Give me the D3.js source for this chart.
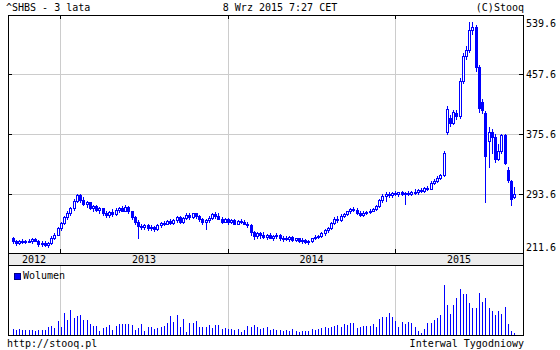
<!DOCTYPE html>
<html>
<head>
<meta charset="utf-8">
<script src="https://d3js.org/d3.v7.min.js"></script>
<style>
  body { margin: 0; background: #fff; }
  svg text { font-family: 'DejaVu Sans Mono', monospace; font-size: 10px; fill: #000; }
</style>
</head>
<body>
<svg></svg>
<script>
var width = 560;
var height = 350;
var left = 8, right = 523;
var mainTop = 15, mainBottom = 253, bandBottom = 265, volBottom = 335;

// weekly candles, first week and notowania
var firstWeek = new Date(Date.UTC(2012, 8, 20));
var opens = [233,229,226,230,228,230,229,232,230,225,227,224,226,234,238,247,254,262,268,274,
             284,292,286,280,282,275,277,272,274,267,265,269,266,272,274,271,276,270,262,256,
             250,248,251,247,249,246,251,254,253,257,254,258,262,256,261,265,262,267,263,259,
             255,258,261,266,263,260,256,259,255,258,253,257,256,253,251,241,236,240,237,235,
             238,234,236,238,233,234,232,235,231,233,229,231,228,230,233,235,236,240,244,247,
             254,260,258,264,266,270,273,272,268,265,268,269,271,273,277,285,291,294,292,295,
             293,296,294,295,293,297,296,299,298,302,301,309,312,316,319,378,398,391,404,400,
             448,482,490,518,522,467,420,404,366,378,372,342,352,374,326,311,289];
var highs = [235,231,231,232,231,232,233,234,231,229,229,228,236,240,249,256,264,270,276,287,
             294,294,289,284,283,279,278,276,275,270,271,273,274,276,277,278,277,271,264,258,
             253,253,252,251,250,252,256,257,258,259,260,264,263,262,267,267,268,268,265,261,
             260,263,268,269,267,262,261,261,260,259,258,259,258,255,252,243,242,242,241,239,
             240,238,240,239,236,236,236,236,234,234,233,232,231,234,237,238,241,246,249,256,
             262,263,266,268,271,274,276,274,270,270,271,273,275,279,287,293,297,297,296,298,
             297,298,297,298,298,300,300,302,303,304,311,314,318,321,352,414,401,409,408,452,
             486,496,528,528,524,470,424,407,385,382,375,362,376,376,330,313,303];
var lows = [226,224,225,227,226,228,227,229,223,222,223,221,225,232,237,245,252,259,265,272,
            282,283,278,276,273,271,270,268,265,262,262,264,265,269,270,270,268,259,252,233,
            246,246,245,244,243,245,249,251,252,252,253,256,254,254,259,260,261,261,257,252,
            246,256,259,261,259,254,255,253,254,252,252,254,252,249,238,232,234,234,233,232,
            233,231,234,231,230,231,230,230,229,228,227,226,225,228,232,233,235,238,242,246,
            252,256,257,262,265,268,270,266,263,264,266,267,270,272,276,282,284,290,289,292,
            291,292,280,292,292,294,294,296,297,299,300,307,310,314,318,376,386,389,396,398,
            445,478,488,512,462,405,404,283,330,350,337,340,350,334,310,278,288];
var closes = [229,226,230,228,230,229,232,230,225,227,224,226,234,238,247,254,262,268,274,284,
              292,286,280,282,275,277,272,274,267,265,269,266,272,274,271,276,270,262,256,250,
              248,251,247,249,246,251,254,253,257,254,258,262,256,261,265,262,267,263,259,255,
              258,261,266,263,260,256,259,255,258,253,257,256,253,251,241,236,240,237,235,238,
              234,236,238,233,234,232,235,231,233,229,231,228,230,233,235,236,240,244,247,254,
              260,258,264,266,270,273,272,268,265,268,269,271,273,277,285,291,294,292,295,293,
              296,294,295,293,297,296,299,298,302,301,309,312,316,319,350,410,391,406,400,448,
              482,490,518,522,467,411,408,345,378,372,342,352,374,336,313,287,294];
var volumes = [12,10,12,10,10,10,10,8,10,10,10,16,18,14,28,16,44,30,50,34,
               38,40,30,30,22,18,18,8,14,16,20,10,18,22,22,22,22,20,10,14,
               22,8,16,16,12,14,16,18,24,38,26,40,16,32,6,24,24,28,16,16,
               16,20,14,20,20,12,14,12,12,10,12,6,10,18,16,20,16,12,14,16,
               10,12,10,10,8,10,8,12,8,6,8,8,8,12,10,12,14,16,14,16,
               18,20,16,22,20,24,24,14,16,18,18,18,22,16,32,36,36,44,36,28,
               16,26,22,26,24,16,8,4,12,24,24,30,34,40,100,60,42,60,74,92,
               82,82,64,54,54,84,66,74,54,48,40,48,42,56,22,8,4];

var priceTicks = [211.6, 293.6, 375.6, 457.6, 539.6];
var yearStarts = [2013, 2014, 2015];
var yearLabels = ['2012', '2013', '2014', '2015'];

var weeks = opens.map((o, i) => ({
    date: d3.utcDay.offset(firstWeek, 7 * i),
    open: o, high: highs[i], low: lows[i], close: closes[i], volume: volumes[i]
}));

var x = d3.scaleUtc()
          .domain([new Date(Date.UTC(2012, 8, 10)), new Date(Date.UTC(2015, 9, 6))])
          .range([left, right]);
var y = d3.scaleLinear()
          .domain([211.6, 539.6])
          .range([254, 14]);
var yVol = d3.scaleLinear()
             .domain([0, 140])
             .range([volBottom, bandBottom]);

var svg = d3.select('svg')
            .attr('width', width)
            .attr('height', height)
            .attr('shape-rendering', 'crispEdges');

var px = d => Math.round(x(d.date));
var yearX = yearStarts.map(yr => Math.round(x(new Date(Date.UTC(yr, 0, 1)))));

// gridlines
svg.selectAll('.hgrid')
    .data(priceTicks.slice(1, -1))
    .enter()
    .append('line')
        .attr('x1', left).attr('x2', right)
        .attr('y1', d => Math.round(y(d)) + 0.5)
        .attr('y2', d => Math.round(y(d)) + 0.5)
        .attr('stroke', '#cccccc');

[[mainTop, mainBottom], [bandBottom, volBottom]].forEach(p => {
    svg.selectAll(null)
        .data(yearX)
        .enter()
        .append('line')
            .attr('x1', d => d + 0.5).attr('x2', d => d + 0.5)
            .attr('y1', p[0]).attr('y2', p[1])
            .attr('stroke', '#cccccc');
});

// year band
svg.append('rect')
    .attr('x', left).attr('y', mainBottom)
    .attr('width', right - left).attr('height', bandBottom - mainBottom)
    .attr('fill', '#ececec');

var bounds = [left].concat(yearX, [right]);
svg.selectAll('.year')
    .data(yearLabels)
    .enter()
    .append('text')
        .attr('x', (d, i) => (bounds[i] + bounds[i + 1]) / 2)
        .attr('y', 263)
        .attr('text-anchor', 'middle')
        .text(d => d);

// small ticks inside the frame
svg.selectAll('.ytick')
    .data(priceTicks.slice(1, -1))
    .enter()
    .append('path')
        .attr('d', d => {
            var yy = Math.round(y(d)) + 0.5;
            return `M${left},${yy}H${left + 4}M${right - 4},${yy}H${right}`;
        })
        .attr('stroke', '#000');

svg.selectAll('.xtick')
    .data(yearX)
    .enter()
    .append('path')
        .attr('d', d => `M${d + 0.5},${mainTop}V${mainTop + 4}M${d + 0.5},${mainBottom - 4}V${mainBottom}`)
        .attr('stroke', '#000');

// candles
var candles = svg.append('g').classed('candles', true);
candles.selectAll('.wick')
    .data(weeks)
    .enter()
    .append('line')
        .attr('x1', d => px(d) + 0.5).attr('x2', d => px(d) + 0.5)
        .attr('y1', d => Math.round(y(d.high)))
        .attr('y2', d => Math.round(y(d.low)) + 1)
        .attr('stroke', '#0000ff');

candles.selectAll('.body')
    .data(weeks)
    .enter()
    .append('rect')
        .attr('x', d => px(d) - 0.5)
        .attr('y', d => Math.round(y(Math.max(d.open, d.close))) + 0.5)
        .attr('width', 2)
        .attr('height', d => Math.max(1, Math.round(y(Math.min(d.open, d.close))) - Math.round(y(Math.max(d.open, d.close)))))
        .attr('fill', d => d.close >= d.open ? '#ffffff' : '#0000ff')
        .attr('stroke', '#0000ff');

// volume
svg.selectAll('.vol')
    .data(weeks)
    .enter()
    .append('line')
        .attr('x1', d => px(d) + 0.5).attr('x2', d => px(d) + 0.5)
        .attr('y1', volBottom)
        .attr('y2', d => Math.round(yVol(d.volume)))
        .attr('stroke', '#0000ff');

// frames
[[mainTop, mainBottom], [mainBottom, bandBottom], [bandBottom, volBottom]].forEach(p => {
    svg.append('rect')
        .attr('x', left + 0.5).attr('y', p[0] + 0.5)
        .attr('width', right - left).attr('height', p[1] - p[0])
        .attr('fill', 'none')
        .attr('stroke', '#000');
});

// price labels
svg.selectAll('.plabel')
    .data(priceTicks)
    .enter()
    .append('text')
        .attr('x', 526)
        .attr('y', d => Math.min(251, Math.max(27, y(d) + 3.5)))
        .text(d => d.toFixed(1));

// legend
svg.append('rect')
    .attr('x', 14.5).attr('y', 273.5)
    .attr('width', 6).attr('height', 6)
    .attr('fill', '#0000ff')
    .attr('stroke', '#000080');
svg.append('text').attr('x', 23).attr('y', 279).text('Wolumen');

// header / footer
svg.append('text').attr('x', 6).attr('y', 11).text('^SHBS - 3 lata');
svg.append('text').attr('x', 280).attr('y', 11).attr('text-anchor', 'middle').text('8 Wrz 2015 7:27 CET');
svg.append('text').attr('x', 524).attr('y', 11).attr('text-anchor', 'end').text('(C)Stooq');
svg.append('text').attr('x', 7).attr('y', 347).text('http://stooq.pl');
svg.append('text').attr('x', 524).attr('y', 347).attr('text-anchor', 'end').text('Interwal Tygodniowy');
</script>
</body>
</html>
